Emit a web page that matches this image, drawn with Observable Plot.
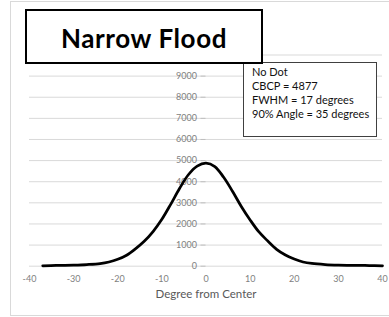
<!DOCTYPE html>
<html><head><meta charset="utf-8">
<script src="https://cdn.jsdelivr.net/npm/d3@7"></script>
<script src="https://cdn.jsdelivr.net/npm/@observablehq/plot@0.6"></script>
<style>
body{margin:0;background:#fff;}
#wrap{position:relative;width:389px;height:317px;overflow:hidden;font-family:Lato,"Open Sans",sans-serif;}
#frame{position:absolute;left:10px;top:1px;width:400px;height:315px;border:1px solid #d9d9d9;border-right:none;box-sizing:border-box;}
#chart{position:absolute;left:0;top:0;}
#note{position:absolute;left:243px;top:62px;width:134px;height:75px;border:1px solid #404040;background:#fff;box-sizing:border-box;font-size:11px;line-height:14px;padding:2px 0 0 8px;color:#111;}
#title{position:absolute;left:25px;top:9px;width:238px;height:55px;border:2px solid #000;box-sizing:border-box;background:#fff;font-weight:bold;font-size:26px;letter-spacing:0.6px;display:flex;align-items:center;justify-content:center;padding-top:3px;color:#000;}
</style></head>
<body>
<div id="wrap">
<div id="frame"></div>
<div id="chart"></div>
<div id="note"></div>
<div id="title"></div>
</div>
<script>
const titleText = "Narrow Flood";
const noteLines = ["No Dot", "CBCP = 4877", "FWHM = 17 degrees", "90% Angle = 35 degrees"];
const xLabel = "Degree from Center";
const xTicks = [-40, -30, -20, -10, 0, 10, 20, 30, 40];
const yGrid = [0, 1000, 2000, 3000, 4000, 5000, 6000, 7000, 8000, 9000, 10000];
const yLabels = [0, 1000, 2000, 3000, 4000, 5000, 6000, 7000, 8000, 9000];
const degrees = [-37, -34, -30, -27, -24, -22, -20, -18, -16, -14, -12, -10, -8, -6, -4, -2, 0, 2, 4, 6, 8, 10, 12, 14, 16, 18, 20, 22, 24, 27, 30, 34, 37, 40];
const intensity = [20, 35, 55, 80, 125, 200, 330, 520, 820, 1180, 1640, 2220, 2930, 3680, 4330, 4740, 4877, 4720, 4210, 3550, 2830, 2190, 1620, 1190, 800, 530, 340, 200, 130, 80, 55, 40, 30, 20];

const data = degrees.map((d, i) => ({deg: d, val: intensity[i]}));

document.getElementById("title").textContent = titleText;
document.getElementById("note").innerHTML = noteLines.map(s => `<div>${s}</div>`).join("");

const plot = Plot.plot({
  width: 389,
  height: 317,
  marginLeft: 29,
  marginRight: 7,
  marginTop: 54.5,
  marginBottom: 51.3,
  style: {fontFamily: "Lato, sans-serif", fontSize: "9px", background: "transparent", color: "#7f7f7f"},
  x: {domain: [-40, 40], ticks: xTicks, tickFormat: d => String(d), tickSize: 0, tickPadding: 9, label: null},
  y: {domain: [0, 10000], axis: null},
  marks: [
    Plot.ruleY(yGrid, {stroke: "#d9d9d9", strokeWidth: 1}),
    Plot.ruleY(yLabels, {x1: 0, x2: 0, insetLeft: -5, stroke: "#bfbfbf"}),
    Plot.text(yLabels, {x: () => 0, y: d => d, text: d => String(d), textAnchor: "end", dx: -9, fill: "#7f7f7f", fontSize: 9}),
    Plot.line(data, {x: "deg", y: "val", stroke: "#000", strokeWidth: 2.75, curve: "catmull-rom"}),
    Plot.text([xLabel], {frameAnchor: "bottom", dy: 32, fill: "#595959", fontSize: 11.5, text: d => d})
  ]
});
document.getElementById("chart").appendChild(plot);
</script>
</body></html>
